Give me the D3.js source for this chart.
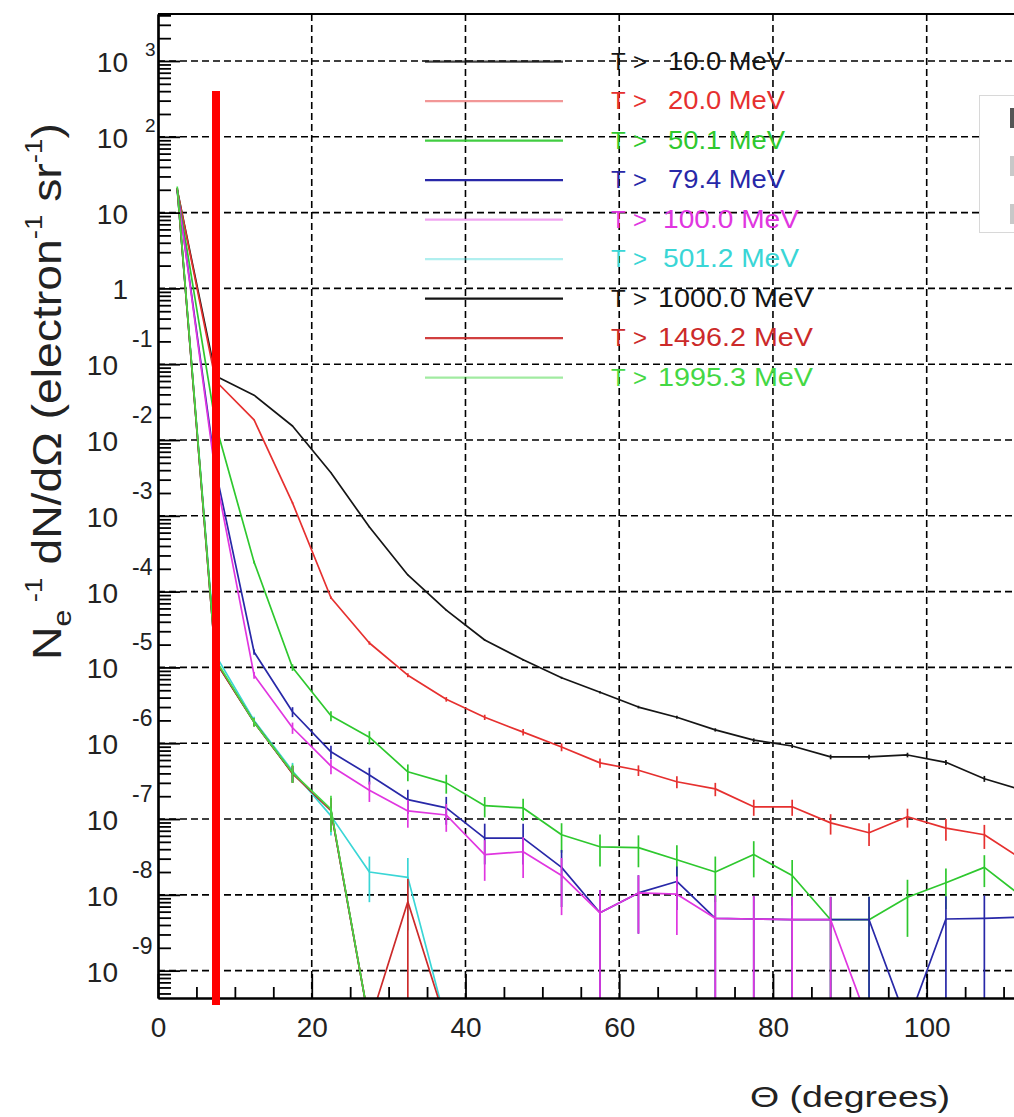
<!DOCTYPE html>
<html>
<head>
<meta charset="utf-8">
<script src="https://cdn.jsdelivr.net/npm/d3@7"></script>
<style>
  body { margin: 0; background: #fff; }
  svg { display: block; font-family: "Liberation Sans", Arial, sans-serif; }
</style>
</head>
<body>
<div id="chart"></div>
<script>
// angular distribution of electrons, one curve per kinetic energy threshold
// bin centres in degrees (5 degree bins)
var thetaDeg = [2.5, 7.5, 12.5, 17.5, 22.5, 27.5, 32.5, 37.5, 42.5, 47.5, 52.5, 57.5,
                62.5, 67.5, 72.5, 77.5, 82.5, 87.5, 92.5, 97.5, 102.5, 107.5, 112.5];

var thresholdLabels = ["10.0", "20.0", "50.1", "79.4", "100.0", "501.2", "1000.0", "1496.2", "1995.3"];

// Ne^-1 dN/dOmega (0 = empty bin)
var dNdO_T10 = [20, 0.070, 0.039, 0.0153, 3.7e-3, 7.1e-4, 1.66e-4, 5.7e-5, 2.3e-5, 1.26e-5, 7.3e-6, 4.7e-6,
                3.0e-6, 2.2e-6, 1.5e-6, 1.1e-6, 9.2e-7, 6.6e-7, 6.6e-7, 7.0e-7, 5.6e-7, 3.4e-7, 2.4e-7];
var dNdO_T20 = [20, 0.060, 0.0184, 1.48e-3, 8.3e-5, 2.1e-5, 7.9e-6, 3.8e-6, 2.2e-6, 1.4e-6, 8.9e-7, 5.5e-7,
                4.4e-7, 3.1e-7, 2.5e-7, 1.45e-7, 1.45e-7, 8.9e-8, 6.6e-8, 1.07e-7, 7.6e-8, 6.2e-8, 2.9e-8];
var dNdO_T50 = [20, 0.016, 2.45e-4, 1.0e-5, 2.3e-6, 1.2e-6, 4.2e-7, 3.0e-7, 1.5e-7, 1.4e-7, 6.2e-8, 4.3e-8,
                4.2e-8, 2.9e-8, 2.0e-8, 3.4e-8, 1.8e-8, 4.7e-9, 4.7e-9, 9.3e-9, 1.44e-8, 2.3e-8, 9.3e-9];
var dNdO_T79 = [20, 4.0e-3, 1.6e-5, 2.6e-6, 7.7e-7, 3.8e-7, 1.8e-7, 1.4e-7, 5.6e-8, 5.6e-8, 2.3e-8, 5.8e-9,
                1.06e-8, 1.5e-8, 4.9e-9, 4.8e-9, 4.7e-9, 4.7e-9, 4.7e-9, 0, 4.8e-9, 4.9e-9, 5.1e-9];
var dNdO_T100 = [20, 3.4e-3, 7.9e-6, 1.6e-6, 5.0e-7, 2.4e-7, 1.28e-7, 1.13e-7, 3.4e-8, 3.7e-8, 1.8e-8, 5.8e-9,
                 1.06e-8, 1.02e-8, 4.9e-9, 4.8e-9, 4.7e-9, 4.7e-9, 0, 0, 0, 0, 0];
var dNdO_T501 = [20, 1.45e-5, 2.0e-6, 4.3e-7, 1.1e-7, 2.0e-8, 1.7e-8, 0, 0, 0, 0, 0,
                 0, 0, 0, 0, 0, 0, 0, 0, 0, 0, 0];
var dNdO_T1000 = [21, 1.2e-5, 1.9e-6, 4.0e-7, 1.3e-7, 0, 0, 0, 0, 0, 0, 0,
                  0, 0, 0, 0, 0, 0, 0, 0, 0, 0, 0];
var dNdO_T1496 = [21, 1.2e-5, 1.9e-6, 4.0e-7, 1.3e-7, 0, 8.1e-9, 0, 0, 0, 0, 0,
                  0, 0, 0, 0, 0, 0, 0, 0, 0, 0, 0];
var dNdO_T1995 = [22, 1.26e-5, 1.9e-6, 4.1e-7, 1.35e-7, 0, 0, 0, 0, 0, 0, 0,
                  0, 0, 0, 0, 0, 0, 0, 0, 0, 0, 0];

// relative errors (error bar half length / value)
var relErr_T10 = [0.002, 0.005, 0.005, 0.006, 0.008, 0.01, 0.012, 0.015, 0.02, 0.025, 0.03, 0.035,
                  0.04, 0.045, 0.05, 0.055, 0.06, 0.07, 0.07, 0.07, 0.075, 0.09, 0.1];
var relErr_T20 = [0.002, 0.005, 0.008, 0.02, 0.04, 0.05, 0.06, 0.07, 0.08, 0.1, 0.12, 0.14,
                  0.16, 0.18, 0.2, 0.24, 0.24, 0.3, 0.33, 0.28, 0.32, 0.35, 0.45];
var relErr_T50 = [0.002, 0.006, 0.04, 0.1, 0.15, 0.2, 0.25, 0.28, 0.3, 0.32, 0.42, 0.45,
                  0.45, 0.55, 0.6, 0.5, 0.6, 1, 1, 0.7, 0.55, 0.45, 0.7];
var relErr_T79 = [0.002, 0.01, 0.08, 0.15, 0.2, 0.25, 0.35, 0.4, 0.55, 0.55, 0.7, 1,
                  0.71, 0.58, 1, 1, 1, 1, 1, 0, 1, 1, 1];
var relErr_T100 = [0.002, 0.01, 0.1, 0.17, 0.22, 0.3, 0.4, 0.4, 0.55, 0.55, 0.7, 1,
                   0.71, 0.71, 1, 1, 1, 1, 0, 0, 0, 0, 0];
var relErr_T501 = [0.002, 0.05, 0.12, 0.28, 0.45, 0.6, 0.8, 0, 0, 0, 0, 0,
                   0, 0, 0, 0, 0, 0, 0, 0, 0, 0, 0];
var relErr_T1000 = [0.002, 0.05, 0.12, 0.25, 0.45, 0, 0, 0, 0, 0, 0, 0,
                    0, 0, 0, 0, 0, 0, 0, 0, 0, 0, 0];
var relErr_T1496 = [0.002, 0.05, 0.12, 0.25, 0.45, 0, 1, 0, 0, 0, 0, 0,
                    0, 0, 0, 0, 0, 0, 0, 0, 0, 0, 0];
var relErr_T1995 = [0.002, 0.05, 0.13, 0.27, 0.5, 0, 0, 0, 0, 0, 0, 0,
                    0, 0, 0, 0, 0, 0, 0, 0, 0, 0, 0];

// x tick labels that fall inside the picture
var xTickLabels = [0, 20, 40, 60, 80, 100];

var allValues = [dNdO_T10, dNdO_T20, dNdO_T50, dNdO_T79, dNdO_T100, dNdO_T501, dNdO_T1000, dNdO_T1496, dNdO_T1995];
var allErrors = [relErr_T10, relErr_T20, relErr_T50, relErr_T79, relErr_T100, relErr_T501, relErr_T1000, relErr_T1496, relErr_T1995];

// colours as they appear in the picture
var seriesColors = ["#151515", "#e6302f", "#2ec82e", "#2828a8", "#e036e0", "#3ad6d6", "#151515", "#cc2a2a", "#44d844"];
var legendLineOpacity = [0.8, 0.5, 0.9, 1, 0.45, 0.4, 1, 0.9, 0.5];

// svg container
var svgWidth = 1014;
var svgHeight = 1117;
var frame = { left: 158, top: 14, bottom: 998, right: 1014 };

var svg = d3.select("#chart")
  .append("svg")
  .attr("width", svgWidth)
  .attr("height", svgHeight);

// scales: 7.687 px per degree, x axis runs on past the right edge of the picture
var xScale = d3.scaleLinear()
  .domain([0, 180])
  .range([frame.left, frame.left + 180 * 7.687]);

var yScale = d3.scaleLog()
  .domain([Math.pow(10, -9.361), Math.pow(10, 3.62)])
  .range([frame.bottom, frame.top]);

// empty bins fall to this value, below the frame (clipped away)
var emptyFloor = 2e-10;

svg.append("defs").append("clipPath")
  .attr("id", "plotClip")
  .append("rect")
  .attr("x", frame.left)
  .attr("y", frame.top)
  .attr("width", frame.right - frame.left)
  .attr("height", frame.bottom - frame.top);

// ---- grid ----
var decades = d3.range(-9, 4);
var gridX = d3.range(20, 181, 20);

var gridGroup = svg.append("g")
  .attr("stroke", "#000")
  .attr("stroke-width", 1.6)
  .attr("stroke-dasharray", "7,4");

gridGroup.selectAll(".hgrid")
  .data(decades)
  .enter()
  .append("line")
  .attr("x1", frame.left)
  .attr("x2", frame.right)
  .attr("y1", d => yScale(Math.pow(10, d)))
  .attr("y2", d => yScale(Math.pow(10, d)));

gridGroup.selectAll(".vgrid")
  .data(gridX)
  .enter()
  .append("line")
  .attr("x1", d => xScale(d))
  .attr("x2", d => xScale(d))
  .attr("y1", frame.top)
  .attr("y2", frame.bottom);

// stats box at the top right, almost all of it beyond the picture edge;
// only the first strokes of its rows show
var statsBox = svg.append("g");
statsBox.append("rect")
  .attr("x", 979.5)
  .attr("y", 95.5)
  .attr("width", 60)
  .attr("height", 137)
  .attr("fill", "#fff")
  .attr("stroke", "#d8d8d8");
statsBox.selectAll(".rowMark")
  .data([0, 1, 2])
  .enter()
  .append("rect")
  .attr("x", 1010)
  .attr("y", d => 108 + d * 48)
  .attr("width", 4)
  .attr("height", 20)
  .attr("fill", d => d === 0 ? "#555" : "#c8c8c8");

// ---- curves ----
var seriesData = allValues.map(function(vals, s) {
  return vals.map(function(v, i) {
    return { theta: thetaDeg[i], v: v, err: allErrors[s][i] };
  });
});

var line = d3.line()
  .x(d => xScale(d.theta))
  .y(d => yScale(d.v > 0 ? d.v : emptyFloor));

var curves = svg.append("g").attr("clip-path", "url(#plotClip)");

seriesData.forEach(function(points, s) {
  var g = curves.append("g");
  g.append("path")
    .datum(points)
    .attr("fill", "none")
    .attr("stroke", seriesColors[s])
    .attr("stroke-width", 1.7)
    .attr("stroke-linejoin", "round")
    .attr("d", line);

  // vertical error bars
  g.selectAll(".errBar")
    .data(points.filter(d => d.v > 0))
    .enter()
    .append("line")
    .attr("x1", d => xScale(d.theta))
    .attr("x2", d => xScale(d.theta))
    .attr("y1", d => yScale(d.v * (1 + d.err)))
    .attr("y2", d => yScale(d.v * (1 - d.err) > 0 ? d.v * (1 - d.err) : emptyFloor))
    .attr("stroke", seriesColors[s])
    .attr("stroke-width", 1.7);
});

// ---- axes ----
var yMinor = [];
for (var k = -10; k <= 3; k++) {
  for (var m = 2; m <= 9; m++) {
    var v = m * Math.pow(10, k);
    if (v >= yScale.domain()[0] && v <= yScale.domain()[1]) yMinor.push(v);
  }
}

var yMinorAxis = svg.append("g")
  .attr("transform", `translate(${frame.left}, 0)`)
  .call(d3.axisLeft(yScale).tickValues(yMinor).tickSize(-13).tickSizeOuter(0).tickFormat(""));

var yMajorAxis = svg.append("g")
  .attr("transform", `translate(${frame.left}, 0)`)
  .call(d3.axisLeft(yScale).tickValues(decades.map(d => Math.pow(10, d))).tickSize(-22).tickSizeOuter(0).tickFormat(""));

var xMinor = d3.range(5, 181, 5).filter(d => d % 20 !== 0);

var xMinorAxis = svg.append("g")
  .attr("transform", `translate(0, ${frame.bottom})`)
  .call(d3.axisBottom(xScale).tickValues(xMinor).tickSize(-11).tickSizeOuter(0).tickFormat(""));

var xMajorAxis = svg.append("g")
  .attr("transform", `translate(0, ${frame.bottom})`)
  .call(d3.axisBottom(xScale).tickValues(d3.range(0, 181, 20)).tickSize(-24).tickSizeOuter(0).tickFormat(""));

// labels only for the ticks inside the picture
var xLabelAxis = svg.append("g")
  .attr("transform", `translate(0, ${frame.bottom})`)
  .call(d3.axisBottom(xScale).tickValues(xTickLabels).tickSize(0).tickPadding(19).tickFormat(d3.format("d")));
xLabelAxis.attr("font-size", 28).attr("font-family", null);
xLabelAxis.select(".domain").remove();
xLabelAxis.selectAll("text").attr("fill", "#222");

[yMinorAxis, yMajorAxis, xMinorAxis, xMajorAxis].forEach(function(ax) {
  ax.selectAll("line").attr("stroke", "#000").attr("stroke-width", 1.8);
  ax.select(".domain").attr("stroke", "#000").attr("stroke-width", 2.2);
});

// top edge of frame
svg.append("line")
  .attr("x1", frame.left)
  .attr("x2", frame.right)
  .attr("y1", frame.top)
  .attr("y2", frame.top)
  .attr("stroke", "#000")
  .attr("stroke-width", 2.2);

// y tick labels as 10 with raised exponent
var yLabels = svg.append("g").attr("fill", "#222");
decades.forEach(function(d) {
  var ty = yScale(Math.pow(10, d));
  if (d === 0 || d === 1) {
    yLabels.append("text")
      .attr("x", 128)
      .attr("y", ty + 11)
      .attr("text-anchor", "end")
      .attr("font-size", 28)
      .text(d === 0 ? "1" : "10");
  } else if (d > 1) {
    yLabels.append("text")
      .attr("x", 128).attr("y", ty + 11)
      .attr("text-anchor", "end").attr("font-size", 28)
      .text("10");
    yLabels.append("text")
      .attr("x", 145).attr("y", ty - 5)
      .attr("font-size", 19)
      .text(d);
  } else {
    yLabels.append("text")
      .attr("x", 118).attr("y", ty + 11)
      .attr("text-anchor", "end").attr("font-size", 28)
      .text("10");
    yLabels.append("text")
      .attr("x", 132).attr("y", ty - 17)
      .attr("font-size", 23)
      .text(d);
  }
});

// axis titles
svg.append("text")
  .attr("x", 750)
  .attr("y", 1107)
  .attr("font-size", 29)
  .attr("fill", "#222")
  .attr("textLength", 200)
  .attr("lengthAdjust", "spacingAndGlyphs")
  .text("\u0398 (degrees)");

var yTitle = svg.append("text")
  .attr("font-size", 40)
  .attr("fill", "#222");
yTitle.append("tspan").text("N");
yTitle.append("tspan").attr("font-size", 26).attr("dy", 10).text("e");
yTitle.append("tspan").attr("font-size", 24).attr("dy", -29).text(" -1");
yTitle.append("tspan").attr("dy", 19).text("  dN/d\u03A9  (electron");
yTitle.append("tspan").attr("font-size", 24).attr("dy", -19).text("-1");
yTitle.append("tspan").attr("dy", 19).text(" sr");
yTitle.append("tspan").attr("font-size", 24).attr("dy", -19).text("-1");
yTitle.append("tspan").attr("dy", 19).text(")");
// stretch the title along its length to span the same height as the original
var titleLen = yTitle.node().getComputedTextLength();
yTitle.attr("transform", `translate(61, 660) rotate(-90) scale(${537 / titleLen}, 1)`);

// ---- legend ----
var legend = svg.append("g");
thresholdLabels.forEach(function(label, i) {
  var ly = 61.7 + i * 39.5;
  legend.append("line")
    .attr("x1", 425).attr("x2", 563)
    .attr("y1", ly).attr("y2", ly)
    .attr("stroke", seriesColors[i])
    .attr("stroke-opacity", legendLineOpacity[i])
    .attr("stroke-width", 2.2);
  legend.append("text")
    .attr("x", 611).attr("y", ly + 8)
    .attr("font-size", 24)
    .attr("fill", seriesColors[i])
    .text("T");
  legend.append("text")
    .attr("x", 633).attr("y", ly + 8)
    .attr("font-size", 24)
    .attr("fill", seriesColors[i])
    .text(">");
  var extra = label.length - 4;
  legend.append("text")
    .attr("x", 668 - extra * 5)
    .attr("y", ly + 8)
    .attr("font-size", 25)
    .attr("fill", seriesColors[i])
    .attr("textLength", 117 + extra * 19)
    .attr("lengthAdjust", "spacingAndGlyphs")
    .text(label + " MeV");
});

// red marker bar drawn over the plot
svg.append("rect")
  .attr("x", 212)
  .attr("y", 91)
  .attr("width", 8)
  .attr("height", 914)
  .attr("fill", "#ff0000");
</script>
</body>
</html>
